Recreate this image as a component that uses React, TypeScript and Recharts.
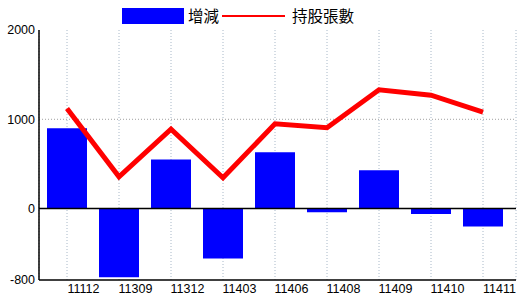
import React from 'react';
import { ComposedChart, Bar, Line, XAxis, YAxis, CartesianGrid, ReferenceLine, Legend } from 'recharts';

const categories = ['11112', '11309', '11312', '11403', '11406', '11408', '11409', '11410', '11411'];
const changeValues = [900, -770, 550, -560, 630, -40, 430, -60, -200];
const holdingValues = [1120, 355, 890, 345, 950, 905, 1330, 1270, 1080];
const yTicks = [-800, 0, 1000, 2000];
const seriesNames = ['增減', '持股張數'];

const data = categories.map((c, i) => ({ name: c, change: changeValues[i], holding: holdingValues[i] }));

const FONT = "'Liberation Sans Narrow', 'Liberation Sans', Arial, sans-serif";
const CJK = "'Noto Sans CJK TC', 'Noto Sans CJK SC', sans-serif";

const XTick = (props: any) => {
  const { x, y, payload } = props;
  return (
    <text x={x + 16.5} y={y + 13} textAnchor="middle" fontFamily={FONT} fontSize={12.5} fill="#000">
      {payload.value}
    </text>
  );
};

const LegendContent = () => (
  <div style={{ position: 'relative', width: 520, height: 26, fontFamily: CJK, fontSize: 15.5, color: '#000' }}>
    <div style={{ position: 'absolute', left: 122, top: 4, width: 62, height: 16, background: '#0000ff' }} />
    <span style={{ position: 'absolute', left: 188, top: 0, lineHeight: '22px' }}>{seriesNames[0]}</span>
    <div style={{ position: 'absolute', left: 222, top: 11, width: 63, height: 2, background: '#ff0000' }} />
    <span style={{ position: 'absolute', left: 292, top: 0, lineHeight: '22px' }}>{seriesNames[1]}</span>
  </div>
);

export default function App() {
  return (
    <div style={{ position: 'absolute', left: 0, top: 0, width: 520, height: 300, background: '#fff' }}>
      <ComposedChart width={520} height={300} data={data} margin={{ top: 4, right: 4, bottom: 0, left: 0 }} barSize={40}>
        <Legend verticalAlign="top" align="left" height={26} content={<LegendContent />} wrapperStyle={{ left: 0, top: 4, width: 520 }} />
        <CartesianGrid horizontal={false} stroke="#a8b8c8" strokeDasharray="1 2" />
        <ReferenceLine y={1000} stroke="#a0a0a0" strokeDasharray="1 2" />
        <XAxis
          dataKey="name"
          padding={{ left: 2, right: 7 }}
          height={20}
          tickLine={false}
          tickSize={0}
          tickMargin={0}
          axisLine={{ stroke: '#000', strokeWidth: 1.5 }}
          tick={<XTick />}
          interval={0}
        />
        <XAxis xAxisId="top" dataKey="name" orientation="top" height={0} tick={false} tickLine={false} axisLine={{ stroke: '#000', strokeWidth: 1.5 }} />
        <YAxis
          domain={[-800, 2000]}
          ticks={yTicks}
          width={39}
          tickLine={false}
          tickSize={0}
          tickMargin={4}
          axisLine={{ stroke: '#000', strokeWidth: 1.5 }}
          tick={{ fill: '#000', fontFamily: FONT, fontSize: 12.5 }}
          interval={0}
        />
        <YAxis yAxisId="right" orientation="right" width={0} tick={false} tickLine={false} axisLine={{ stroke: '#000', strokeWidth: 1.5 }} />
        <ReferenceLine y={0} stroke="#000" strokeWidth={1.5} />
        <Bar dataKey="change" fill="#0000ff" isAnimationActive={false} />
        <Line dataKey="holding" stroke="#ff0000" strokeWidth={5} dot={false} activeDot={false} type="linear" isAnimationActive={false} />
      </ComposedChart>
    </div>
  );
}
